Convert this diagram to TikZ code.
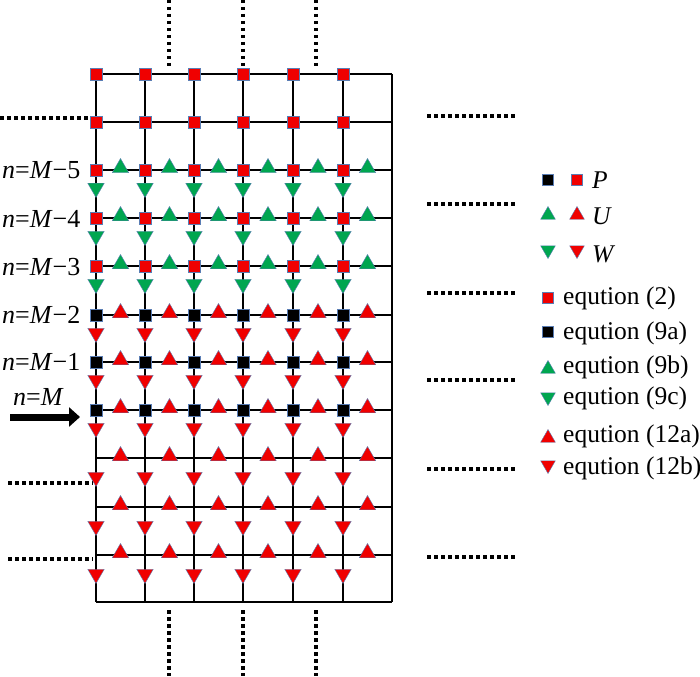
\documentclass[tikz,border=0pt]{standalone}
\usepackage{fontspec}
\setmainfont{Liberation Serif}
\usetikzlibrary{shapes.geometric, arrows.meta}
\definecolor{mred}{RGB}{240,0,0}
\definecolor{mgreen}{RGB}{0,166,80}
\definecolor{medge}{RGB}{90,125,180}
\tikzset{
  gridline/.style={line width=2pt, black},
  dotline/.style={line width=3.5pt, dash pattern=on 3.5pt off 3.5pt, black},
  sqm/.style={rectangle, draw=medge, line width=0.4pt, minimum size=12.5pt, inner sep=0pt},
  rsq/.style={sqm, fill=mred},
  bsq/.style={sqm, fill=black},
  trim/.style={regular polygon, regular polygon sides=3, draw=medge, line width=0.4pt, minimum size=19pt, inner sep=0pt},
  gup/.style={trim, fill=mgreen},
  rup/.style={trim, fill=mred},
  gdn/.style={trim, fill=mgreen, shape border rotate=180},
  rdn/.style={trim, fill=mred, shape border rotate=180},
  small/.style={minimum size=11pt},
  smalltri/.style={minimum size=17pt},
  lbl/.style={inner sep=0pt, font=\fontsize{26}{30}\selectfont},
  leg/.style={inner sep=0pt, font=\fontsize{25.5}{30}\selectfont},
}
\begin{document}
\begin{tikzpicture}[x=1pt, y=-1pt]
\useasboundingbox (0,0) rectangle (700,676);
% grid
\foreach \y in {74,122,170,218,266,315,362,410,458,507,555,602}
  \draw[gridline] (96,\y) -- (392,\y);
\foreach \x in {96,145,194,243,293,343,392}
  \draw[gridline] (\x,74) -- (\x,602);
% dotted continuation lines
\foreach \x in {169,243,316} {
  \draw[dotline] (\x,0) -- (\x,66);
  \draw[dotline] (\x,610) -- (\x,676);
}
\draw[dotline] (0,118) -- (89,118);
\draw[dotline] (8,483) -- (93,483);
\draw[dotline] (8,559) -- (93,559);
\foreach \y in {116,204,293,380,469,557}
  \draw[dotline] (427,\y) -- (515,\y);
% markers
\foreach \c/\x/\m in {1/96/120.5,2/145/169.5,3/194/218.5,4/243/268,5/293/318,6/343/367.5} {
  \foreach \r/\y in {1/74,2/122} {
    \node[rsq] (s-\r-\c) at (\x,\y) {};
  }
  \foreach \r/\y in {3/170,4/218,5/266} {
    \node[gdn] (w-\r-\c) at (\x,\y+18) {};
    \node[rsq] (s-\r-\c) at (\x,\y) {};
    \node[gup] (u-\r-\c) at (\m,\y-2) {};
  }
  \foreach \r/\y in {6/315,7/362,8/410} {
    \node[rdn] (w-\r-\c) at (\x,\y+18) {};
    \node[bsq] (s-\r-\c) at (\x,\y) {};
    \node[rup] (u-\r-\c) at (\m,\y-2) {};
  }
  \foreach \r/\y in {9/458,10/507,11/555} {
    \node[rdn] (w-\r-\c) at (\x,\y+19) {};
    \node[rup] (u-\r-\c) at (\m,\y-2) {};
  }
}
% row labels
\node[lbl, anchor=base west] (l5) at (2,179) {\textit{n}=\textit{M}−5};
\node[lbl, anchor=base west] (l4) at (2,227) {\textit{n}=\textit{M}−4};
\node[lbl, anchor=base west] (l3) at (2,275) {\textit{n}=\textit{M}−3};
\node[lbl, anchor=base west] (l2) at (2,323) {\textit{n}=\textit{M}−2};
\node[lbl, anchor=base west] (l1) at (2,370) {\textit{n}=\textit{M}−1};
\node[lbl, anchor=base west] (l0) at (13,405) {\textit{n}=\textit{M}};
\coordinate (arrS) at (10,417);
\coordinate (arrE) at (80,417);
\draw[line width=7pt, -{Triangle[length=11pt, width=19pt]}] (arrS) -- (arrE);
% legend
\node[bsq, small] (kp1) at (548,180) {};
\node[rsq, small] (kp2) at (577,180) {};
\node[leg, anchor=base west] (kpt) at (592,189) {\textit{P}};
\node[gup, smalltri] (ku1) at (548,215) {};
\node[rup, smalltri] (ku2) at (577,215) {};
\node[leg, anchor=base west] (kut) at (592,224) {\textit{U}};
\node[gdn, smalltri] (kw1) at (548,250) {};
\node[rdn, smalltri] (kw2) at (577,250) {};
\node[leg, anchor=base west] (kwt) at (592,262) {\textit{W}};
\node[rsq, small] (e1) at (548,298) {};
\node[leg, anchor=base west] (e1t) at (563,304) {eqution (2)};
\node[bsq, small] (e2) at (548,332) {};
\node[leg, anchor=base west] (e2t) at (563,339) {eqution (9a)};
\node[gup, smalltri] (e3) at (548,369) {};
\node[leg, anchor=base west] (e3t) at (563,373) {eqution (9b)};
\node[gdn, smalltri] (e4) at (548,397) {};
\node[leg, anchor=base west] (e4t) at (563,404) {eqution (9c)};
\node[rup, smalltri] (e5) at (548,438) {};
\node[leg, anchor=base west] (e5t) at (563,442) {eqution (12a)};
\node[rdn, smalltri] (e6) at (548,465) {};
\node[leg, anchor=base west] (e6t) at (563,474) {eqution (12b)};
\end{tikzpicture}
\end{document}
